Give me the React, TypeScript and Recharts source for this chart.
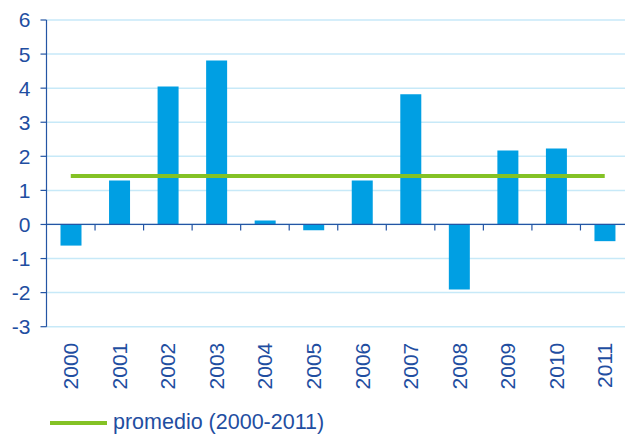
import React from 'react';
import { ComposedChart, Bar, Line, XAxis, YAxis, CartesianGrid, ReferenceLine } from 'recharts';

// values
const years = ['2000', '2001', '2002', '2003', '2004', '2005', '2006', '2007', '2008', '2009', '2010', '2011'];
const values = [-0.62, 1.29, 4.05, 4.81, 0.12, -0.17, 1.29, 3.82, -1.91, 2.17, 2.23, -0.49];
const promedio = 1.42;
const yTicks = [-3, -2, -1, 0, 1, 2, 3, 4, 5, 6];

const BLUE_TEXT = '#1f4ea1';
const BAR = '#009fe3';
const GREEN = '#84c225';

const chartData = years.map((year, i) => ({ year, value: values[i], avg: promedio }));

const YearTick = (props: any) => {
  const { x, y, payload } = props;
  return (
    <text
      x={x}
      y={y}
      transform={`rotate(-90, ${x}, ${y})`}
      textAnchor="end"
      dominantBaseline="central"
      fill={BLUE_TEXT}
      fontSize={21}
    >
      {payload.value}
    </text>
  );
};

// zero line with small ticks at the category boundaries
const ZeroAxis = (props: any) => {
  const { x1, y1, x2 } = props;
  const step = (x2 - x1) / years.length;
  return (
    <g>
      <line x1={x1} y1={y1} x2={x2} y2={y1} stroke="#2455a4" strokeWidth={1.2} />
      {years.slice(1).map((_, i) => (
        <line
          key={i}
          x1={x1 + step * (i + 1)}
          x2={x1 + step * (i + 1)}
          y1={y1}
          y2={y1 + 6}
          stroke="#2455a4"
          strokeWidth={1.2}
        />
      ))}
    </g>
  );
};

export default function App() {
  return (
    <div
      style={{
        position: 'absolute',
        left: 0,
        top: 0,
        width: 625,
        height: 437,
        overflow: 'hidden',
        background: '#fff',
        fontFamily: '"Liberation Sans", Arial, sans-serif',
      }}
    >
      <ComposedChart
        width={632}
        height={437}
        data={chartData}
        margin={{ top: 20, right: 3, bottom: 35.3, left: 0 }}
      >
        <CartesianGrid horizontal vertical={false} stroke="#c7e9f8" strokeWidth={1.5} />
        <XAxis
          dataKey="year"
          height={75}
          axisLine={false}
          tickLine={false}
          tickSize={0}
          tickMargin={16}
          interval={0}
          tick={<YearTick />}
        />
        <YAxis
          width={46.5}
          domain={[-3, 6]}
          ticks={yTicks}
          interval={0}
          axisLine={{ stroke: '#2455a4', strokeWidth: 1.2 }}
          tickLine={{ stroke: '#2455a4', strokeWidth: 1.2 }}
          tickSize={6}
          tickMargin={10}
          tick={{ fill: BLUE_TEXT, fontSize: 21 }}
        />
        <Bar dataKey="value" fill={BAR} barSize={21} isAnimationActive={false} />
        <ReferenceLine y={0} shape={<ZeroAxis />} />
        <Line
          dataKey="avg"
          stroke={GREEN}
          strokeWidth={4}
          dot={false}
          activeDot={false}
          isAnimationActive={false}
        />
      </ComposedChart>
      <div
        style={{
          position: 'absolute',
          left: 50,
          top: 410,
          display: 'flex',
          alignItems: 'center',
          color: BLUE_TEXT,
          fontSize: 21.5,
        }}
      >
        <span style={{ display: 'inline-block', width: 57, height: 4, background: GREEN, marginRight: 6 }} />
        <span>promedio (2000-2011)</span>
      </div>
    </div>
  );
}
